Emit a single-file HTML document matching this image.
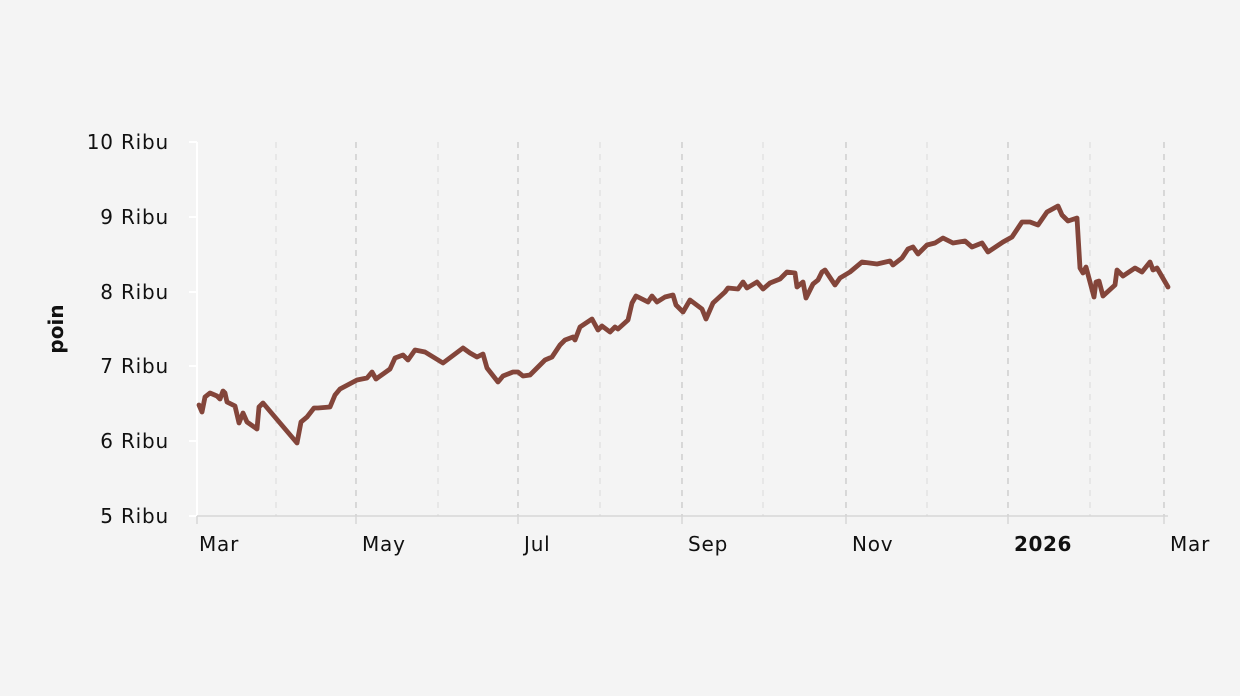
<!DOCTYPE html>
<html><head><meta charset="utf-8"><style>
html,body{margin:0;padding:0;background:#f4f4f4;}
svg{display:block;font-family:"DejaVu Sans","Liberation Sans",sans-serif;}
</style></head><body>
<svg width="1240" height="696" viewBox="0 0 1240 696">
<rect width="1240" height="696" fill="#f4f4f4"/>
<g stroke-dasharray="6,6" stroke-width="1.3">
<g stroke="#e0e0e0"><line x1="276" y1="142" x2="276" y2="516"/><line x1="438" y1="142" x2="438" y2="516"/><line x1="600" y1="142" x2="600" y2="516"/><line x1="763" y1="142" x2="763" y2="516"/><line x1="927" y1="142" x2="927" y2="516"/><line x1="1090" y1="142" x2="1090" y2="516"/></g>
<g stroke="#c8c8c8"><line x1="356" y1="142" x2="356" y2="516"/><line x1="518" y1="142" x2="518" y2="516"/><line x1="682" y1="142" x2="682" y2="516"/><line x1="846" y1="142" x2="846" y2="516"/><line x1="1008" y1="142" x2="1008" y2="516"/><line x1="1164" y1="142" x2="1164" y2="516"/></g>
</g>
<line x1="197" y1="142" x2="197" y2="516" stroke="#fff" stroke-width="2"/>
<line x1="197" y1="516" x2="1168" y2="516" stroke="#d6d6d6" stroke-width="1.5"/>
<g stroke="#fff" stroke-width="2"><line x1="189" y1="142" x2="197" y2="142"/><line x1="189" y1="217" x2="197" y2="217"/><line x1="189" y1="292" x2="197" y2="292"/><line x1="189" y1="366" x2="197" y2="366"/><line x1="189" y1="441" x2="197" y2="441"/><line x1="189" y1="516" x2="197" y2="516"/></g>
<g stroke="#d6d6d6" stroke-width="1.5"><line x1="197" y1="516" x2="197" y2="524"/><line x1="356" y1="516" x2="356" y2="524"/><line x1="518" y1="516" x2="518" y2="524"/><line x1="682" y1="516" x2="682" y2="524"/><line x1="846" y1="516" x2="846" y2="524"/><line x1="1008" y1="516" x2="1008" y2="524"/><line x1="1164" y1="516" x2="1164" y2="524"/></g>
<g font-size="20" letter-spacing="0.8" fill="#111" text-anchor="end">
<text x="169" y="149">10 Ribu</text><text x="169" y="224">9 Ribu</text><text x="169" y="299">8 Ribu</text><text x="169" y="373">7 Ribu</text><text x="169" y="448">6 Ribu</text><text x="169" y="523">5 Ribu</text>
</g>
<g font-size="20" letter-spacing="0.8" fill="#111">
<text x="199" y="551">Mar</text><text x="362" y="551">May</text><text x="524" y="551">Jul</text><text x="688" y="551">Sep</text><text x="852" y="551">Nov</text><text x="1014" y="551" font-weight="bold" letter-spacing="0.6">2026</text><text x="1170" y="551">Mar</text>
</g>
<text transform="translate(63,329) rotate(-90)" font-size="20" font-weight="bold" text-anchor="middle" fill="#111">poin</text>
<polyline fill="none" stroke="#83453a" stroke-width="4.8" stroke-linejoin="round" stroke-linecap="round" points="
199,405 202,412 205,397 210,393 217,396 220,399 223,391 225,393 227,402 235,406 239,423 243,413 247,422 257,429 259,407 263,403 297,443 301,422 307,417 314,408 318,408 330,407 335,395 340,389 357,380 367,378 372,372 376,379 390,369 395,358 403,355 408,360 415,350 425,352 443,363 463,348 470,353 477,357 483,354 487,368 498,382 503,376 513,372 518,372 523,376 530,375
545,360 552,357 560,345 565,340 573,337 575,340 580,327 592,319 598,330 602,326 610,332 615,327 618,329 628,320 632,303 636,296 648,302 652,296 657,302 665,297 673,295 676,305 683,312 690,300 702,309 706,319 713,303 725,292 728,288 738,289 743,282 747,288 757,282 763,289 770,283 780,279 787,272 795,273 797,287 803,282 806,298 813,284 818,280 822,272 825,270 835,285 840,278
850,272 862,262 877,264 890,261 893,265 902,258 908,249 913,247 918,254 927,245 935,243 943,238 953,243 965,241 972,247 982,243 988,252 1003,242 1012,237 1022,222 1030,222 1038,225 1047,212 1058,206 1062,215 1068,221 1077,218 1080,268 1083,273 1086,267 1094,297 1096,282 1099,281 1103,296 1115,285 1117,270 1123,276 1135,268 1142,272 1150,262 1153,270 1157,268 1168,287"/>
</svg>
</body></html>
